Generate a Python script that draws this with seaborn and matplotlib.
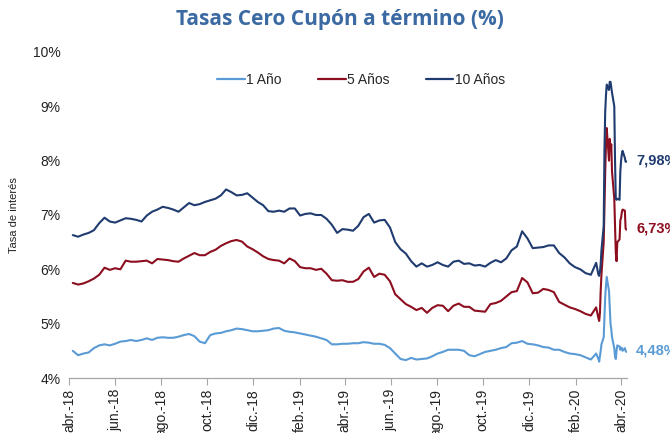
import numpy as np
import pandas as pd
import matplotlib
matplotlib.use("Agg")
import matplotlib.pyplot as plt
import matplotlib.dates as mdates
import seaborn as sns

# ---------------- data ----------------
series_names = ["1 Año", "5 Años", "10 Años"]

# weekly observations (Fridays) from 2018-04-06 to 2020-02-28
weekly_start = "2018-04-06"
weekly_count = 100

y1_weekly = [4.50, 4.42, 4.45, 4.47, 4.55, 4.60, 4.62, 4.60, 4.63, 4.67,
             4.68, 4.70, 4.68, 4.70, 4.73, 4.70, 4.74, 4.75, 4.74, 4.74,
             4.76, 4.79, 4.81, 4.77, 4.67, 4.64, 4.79, 4.82, 4.83, 4.86,
             4.88, 4.91, 4.90, 4.88, 4.86, 4.86, 4.87, 4.88, 4.91, 4.92,
             4.87, 4.85, 4.84, 4.82, 4.80, 4.78, 4.76, 4.73, 4.70, 4.62,
             4.62, 4.63, 4.63, 4.64, 4.64, 4.66, 4.65, 4.63, 4.63, 4.61,
             4.55, 4.45, 4.35, 4.33, 4.37, 4.34, 4.35, 4.36, 4.40, 4.45,
             4.48, 4.52, 4.52, 4.52, 4.50, 4.42, 4.40, 4.44, 4.48, 4.50,
             4.52, 4.55, 4.57, 4.64, 4.65, 4.68, 4.63, 4.62, 4.60, 4.57,
             4.56, 4.52, 4.52, 4.48, 4.45, 4.44, 4.42, 4.38, 4.34, 4.45]

y5_weekly = [5.75, 5.72, 5.74, 5.78, 5.83, 5.90, 6.03, 5.99, 6.02, 6.00,
             6.16, 6.14, 6.14, 6.15, 6.16, 6.11, 6.19, 6.18, 6.17, 6.15,
             6.14, 6.20, 6.25, 6.30, 6.26, 6.26, 6.32, 6.36, 6.43, 6.48,
             6.52, 6.54, 6.51, 6.42, 6.37, 6.31, 6.24, 6.19, 6.17, 6.16,
             6.11, 6.20, 6.15, 6.04, 6.02, 6.02, 5.99, 6.01, 5.92, 5.80,
             5.79, 5.80, 5.77, 5.77, 5.82, 5.96, 6.03, 5.86, 5.92, 5.90,
             5.78, 5.54, 5.45, 5.36, 5.31, 5.25, 5.29, 5.20, 5.29, 5.34,
             5.33, 5.23, 5.33, 5.37, 5.31, 5.31, 5.24, 5.23, 5.22, 5.36,
             5.38, 5.42, 5.50, 5.58, 5.60, 5.84, 5.76, 5.56, 5.57, 5.64,
             5.62, 5.58, 5.40, 5.35, 5.30, 5.27, 5.23, 5.18, 5.15, 5.30]

y10_weekly = [6.63, 6.60, 6.64, 6.67, 6.72, 6.85, 6.95, 6.88, 6.86, 6.90,
              6.94, 6.93, 6.91, 6.88, 6.99, 7.06, 7.10, 7.15, 7.13, 7.10,
              7.06, 7.14, 7.22, 7.18, 7.20, 7.24, 7.27, 7.30, 7.36, 7.47,
              7.42, 7.36, 7.37, 7.40, 7.32, 7.24, 7.18, 7.07, 7.06, 7.08,
              7.06, 7.12, 7.12, 6.99, 7.02, 7.03, 7.00, 7.00, 6.93, 6.82,
              6.67, 6.74, 6.73, 6.71, 6.80, 6.96, 7.02, 6.86, 6.90, 6.91,
              6.77, 6.50, 6.37, 6.29, 6.15, 6.05, 6.11, 6.05, 6.08, 6.13,
              6.08, 6.05, 6.14, 6.16, 6.10, 6.11, 6.07, 6.08, 6.05, 6.12,
              6.17, 6.13, 6.20, 6.35, 6.42, 6.70, 6.57, 6.39, 6.40, 6.41,
              6.44, 6.44, 6.30, 6.22, 6.11, 6.04, 6.00, 5.93, 5.90, 6.12]

# daily observations, March - April 2020
daily_dates = ["2020-03-02", "2020-03-03", "2020-03-04", "2020-03-05", "2020-03-06",
               "2020-03-09", "2020-03-10", "2020-03-11", "2020-03-12", "2020-03-13",
               "2020-03-16", "2020-03-17", "2020-03-18", "2020-03-19", "2020-03-20",
               "2020-03-23", "2020-03-24", "2020-03-25", "2020-03-26", "2020-03-27",
               "2020-03-30", "2020-03-31", "2020-04-01", "2020-04-02", "2020-04-03",
               "2020-04-06", "2020-04-07", "2020-04-08"]
y1_daily = [4.35, 4.30, 4.40, 4.50, 4.62, 4.75, 5.10, 5.50, 5.70, 5.86,
            5.60, 5.30, 5.00, 4.90, 4.75, 4.55, 4.40, 4.35, 4.50, 4.60,
            4.58, 4.52, 4.56, 4.55, 4.50, 4.55, 4.50, 4.48]
y5_daily = [5.10, 5.05, 5.20, 5.60, 5.90, 6.50, 7.20, 7.80, 8.30, 8.60,
            8.00, 8.40, 8.20, 8.30, 7.80, 7.30, 6.80, 6.30, 6.15, 6.50,
            6.55, 6.90, 6.95, 7.05, 7.10, 7.08, 6.75, 6.73]
y10_daily = [5.90, 5.88, 5.95, 6.10, 6.35, 6.80, 8.20, 8.90, 9.20, 9.40,
             9.30, 9.45, 9.45, 9.35, 9.25, 9.00, 8.00, 7.30, 7.28, 7.30,
             7.28, 7.80, 8.00, 8.12, 8.18, 8.05, 7.98, 7.98]

end_labels = ["4,48%", "6,73%", "7,98%"]

tick_dates = ["2018-04-01", "2018-06-01", "2018-08-01", "2018-10-01", "2018-12-01",
              "2019-02-01", "2019-04-01", "2019-06-01", "2019-08-01", "2019-10-01",
              "2019-12-01", "2020-02-01", "2020-04-01"]
tick_labels = ["abr.-18", "jun.-18", "ago.-18", "oct.-18", "dic.-18", "feb.-19",
               "abr.-19", "jun.-19", "ago.-19", "oct.-19", "dic.-19", "feb.-20", "abr.-20"]

colors = ["#5B9BD5", "#8C0E1F", "#1F3B6F"]

# ---------------- build frame ----------------
weekly_dates = pd.date_range(weekly_start, periods=weekly_count, freq="W-FRI")
dates = list(weekly_dates) + list(pd.to_datetime(daily_dates))
vals = {
    "1 Año": y1_weekly + y1_daily,
    "5 Años": y5_weekly + y5_daily,
    "10 Años": y10_weekly + y10_daily,
}
frames = []
for name in series_names:
    frames.append(pd.DataFrame({"fecha": dates, "tasa": vals[name], "serie": name}))
df = pd.concat(frames, ignore_index=True)

# ---------------- plot ----------------
sns.set_theme(style="white")
plt.rcParams["font.family"] = ["Liberation Sans", "DejaVu Sans"]

fig = plt.figure(figsize=(6.7, 4.33), dpi=100)
ax = fig.add_axes([0.103, 0.127, 0.833, 0.753])

sns.lineplot(data=df, x="fecha", y="tasa", hue="serie", hue_order=series_names,
             palette=colors, linewidth=1.5, ax=ax, legend=True)

ax.set_xlim(pd.Timestamp("2018-04-01"), pd.Timestamp("2020-04-09"))
ax.set_ylim(4, 10)
ax.set_yticks([4, 5, 6, 7, 8, 9, 10])
ax.set_yticklabels([f"{v}%" for v in range(4, 11)], fontsize=10, color="#222222")
ax.set_xticks(pd.to_datetime(tick_dates))
ax.set_xticklabels(tick_labels, rotation=90, fontsize=10, color="#222222")
ax.tick_params(axis="x", which="major", direction="out", length=5, width=0.8,
               color="#A6A6A6", bottom=True, pad=3)
ax.tick_params(axis="y", length=0, pad=6)

for s in ["top", "right", "left"]:
    ax.spines[s].set_visible(False)
ax.spines["bottom"].set_color("#A6A6A6")
ax.spines["bottom"].set_linewidth(0.9)
ax.grid(False)

ax.set_xlabel("")
ax.set_ylabel("Tasa de interés", fontsize=8, color="#222222", labelpad=10)

leg = ax.legend(loc="upper center", bbox_to_anchor=(0.523, 0.975), ncol=3,
                frameon=False, fontsize=10, handlelength=2.0, handletextpad=0.1,
                columnspacing=2.6)
for line in leg.get_lines():
    line.set_linewidth(1.6)

# end labels
for name, lab, col in zip(series_names, end_labels, colors):
    last = vals[name][-1]
    ax.annotate(lab, xy=(dates[-1], last), xytext=(7, 1), textcoords="offset points",
                color=col, fontsize=10.5, fontweight="bold", va="center", ha="left",
                annotation_clip=False)

fig.text(0.508, 0.955, "Tasas Cero Cupón a término (%)", ha="center", va="center",
         fontsize=15, fontweight="bold", color="#3B6AA3",
         family=["Open Sans", "DejaVu Sans"])

fig.savefig("out.png", dpi=100)
